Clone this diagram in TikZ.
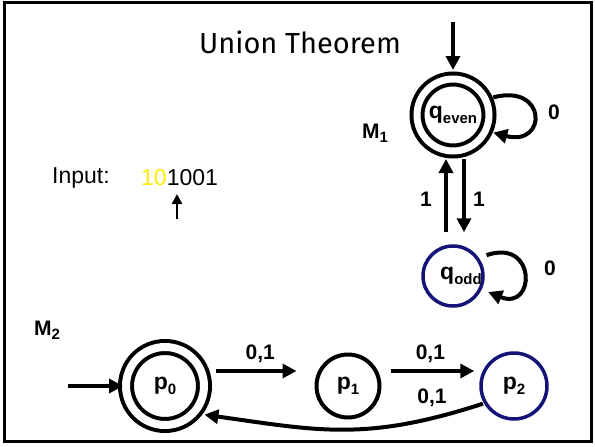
\documentclass[tikz,border=0pt]{standalone}
\usepackage{fontspec}
\setmainfont{Liberation Sans}
\newfontfamily\titlefont{Fira Sans}
\usetikzlibrary{arrows.meta,positioning,calc}
\definecolor{navyline}{RGB}{20,20,120}
\definecolor{readyellow}{RGB}{255,235,0}
\newcommand{\sub}[1]{\raisebox{-0.35ex}{\fontsize{15}{15}\selectfont #1}}

\begin{document}
\begin{tikzpicture}[x=1pt,y=-1pt,
  state/.style={circle,draw,line width=4pt,inner sep=0pt,font=\fontsize{23}{23}\selectfont\bfseries},
  accept/.style={state,double,double distance=7pt},
  lbl/.style={font=\fontsize{21}{21}\selectfont\bfseries},
  arr/.style={line width=4pt,-{Triangle[length=14pt,width=14pt]}}]
\useasboundingbox (0,0) rectangle (595,447);
\draw[line width=3.5pt] (4.5,2.5) rectangle (591.5,441.5);
\node[font=\titlefont\fontsize{29}{29}\selectfont] (title) at (300,42) {Union Theorem};

\node[accept,minimum size=72pt] (qeven) at (453,115) {q\sub{even}};
\node[state,draw=navyline,line width=3.5pt,minimum size=60pt] (qodd) at (453,276) {\hspace*{16pt}q\sub{odd}};
\node[lbl] (m1) at (375,133) {M\sub{1}};
\coordinate (qstart) at (453,22);
\draw[arr,shorten >=7pt] (qstart) -- (qeven);
\draw[arr,shorten <=6pt,shorten >=6pt] (qeven.25) .. controls +(60,-16) and +(60,16) .. (qeven.-25);
\node[lbl] at (554,112) {0};
\draw[arr,shorten <=8pt,shorten >=7pt] (qodd.35) .. controls +(58,-20) and +(54,22) .. (qodd.-25);
\node[lbl] at (550,268) {0};
\draw[arr,shorten <=12pt,shorten >=6pt] ([xshift=-7pt]qodd.north) -- ([xshift=-7pt]qeven.south);
\draw[arr,shorten <=6pt,shorten >=12pt] ([xshift=11pt]qeven.south) -- ([xshift=11pt]qodd.north);
\node[lbl] at (426,199) {1};
\node[lbl] at (479,199) {1};

\node[font=\fontsize{23}{23}\selectfont,anchor=west,inner sep=0pt] (input) at (52,178) {Input:};
\node[font=\fontsize{23}{23}\selectfont,anchor=west,inner sep=0pt] (bits) at (141,178) {\textcolor{readyellow}{10}1001};
\coordinate (headtail) at (177,219);
\coordinate (headtip) at (177,194);
\draw[line width=2.5pt,-{Triangle[length=10pt,width=10pt]}] (headtail) -- (headtip);

\node[lbl] (m2) at (47,330) {M\sub{2}};
\node[accept,double distance=8pt,minimum size=78pt] (p0) at (165,386) {p\sub{0}};
\node[state,minimum size=63pt] (p1) at (348,386) {p\sub{1}};
\node[state,draw=navyline,line width=3.5pt,minimum size=66pt] (p2) at (514,386) {p\sub{2}};
\coordinate (pstart) at (68,386);
\draw[arr,shorten >=1pt] (pstart) -- (p0);
\draw[arr,shorten <=10pt,shorten >=18pt] ([yshift=15pt]p0.east) -- node[lbl,above=3pt] {0,1} ([yshift=15pt]p1.west);
\draw[arr,shorten <=9pt,shorten >=5pt] ([yshift=15pt]p1.east) -- node[lbl,above=3pt] {0,1} ([yshift=15pt]p2.west);
\draw[arr,shorten <=1pt,shorten >=9pt] (p2.210) to[out=198,in=-8,looseness=1.1] (p0.-42);
\node[lbl] at (432,398) {0,1};
\end{tikzpicture}
\end{document}
